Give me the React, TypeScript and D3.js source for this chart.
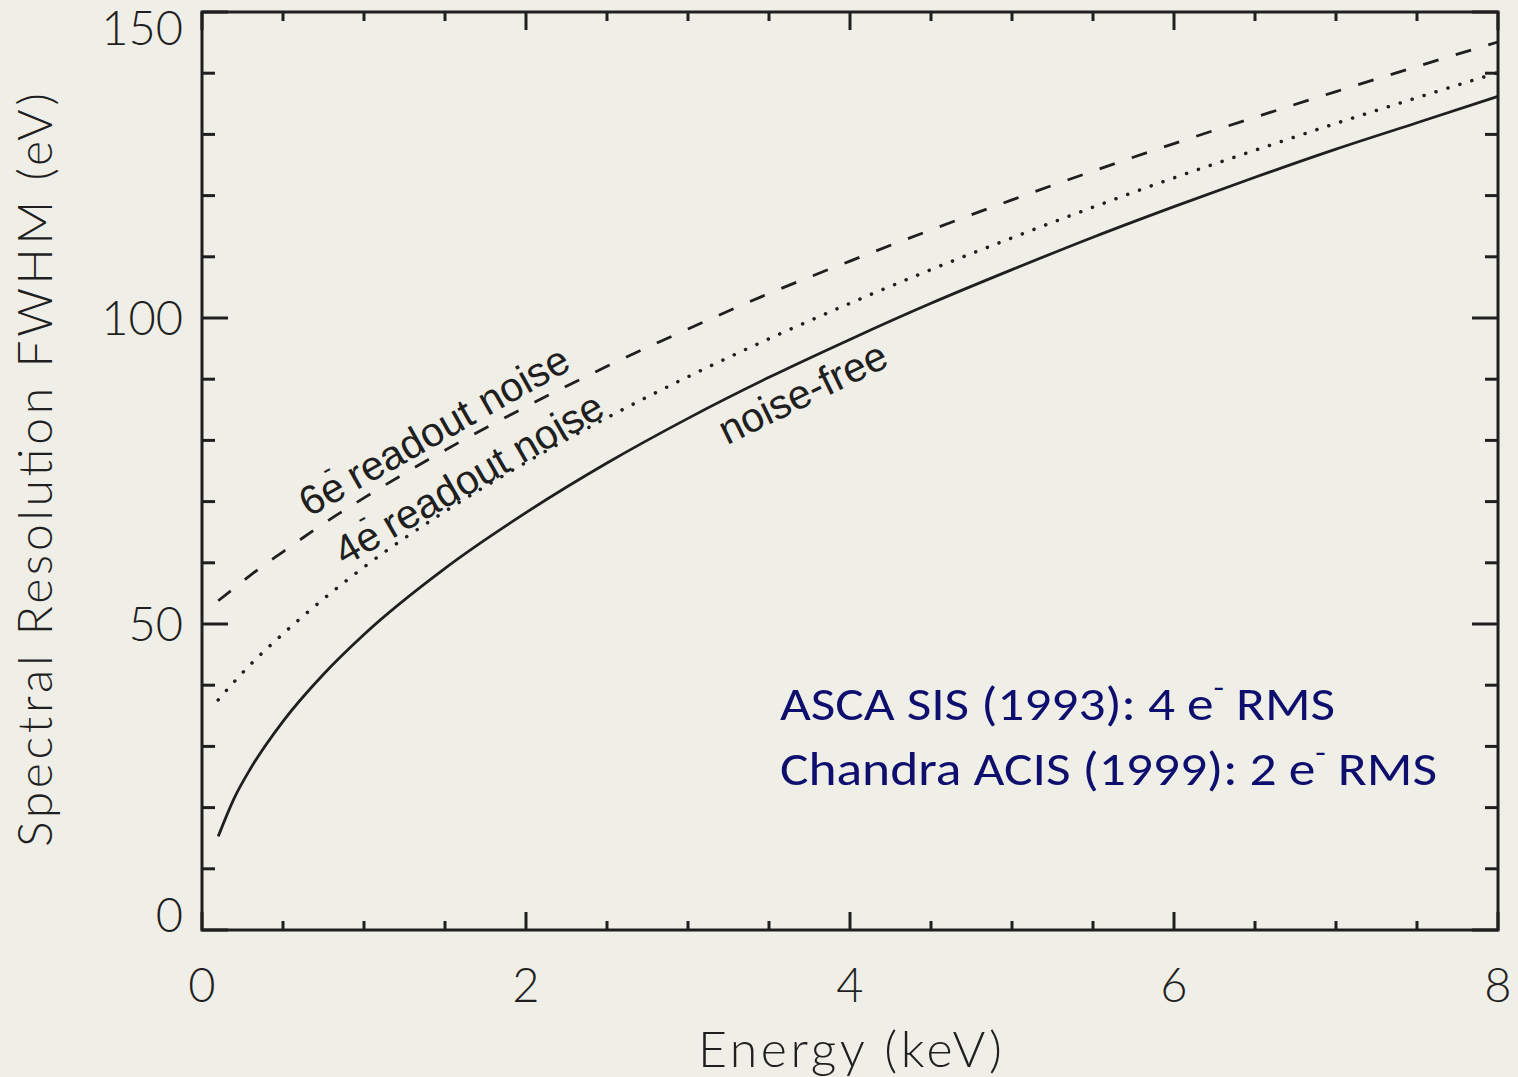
import React from "react";
import * as d3 from "d3";

const energies = [0.1, 0.2, 0.3, 0.5, 0.75, 1, 1.5, 2, 2.5, 3, 3.5, 4, 4.5, 5, 5.5, 6, 6.5, 7, 7.5, 8];
const noiseFree = [15.3, 21.6, 26.4, 34.1, 41.8, 48.3, 59.1, 68.2, 76.3, 83.6, 90.3, 96.5, 102.4, 107.9, 113.2, 118.2, 123.0, 127.6, 131.9, 136.2];
const noise4e = [37.6, 40.6, 43.4, 48.4, 54.1, 59.3, 68.4, 76.4, 83.7, 90.4, 96.6, 102.4, 107.9, 113.1, 118.1, 122.9, 127.4, 131.8, 136.0, 140.1];
const noise6e = [53.8, 55.9, 58.0, 61.8, 66.4, 70.6, 78.4, 85.5, 92.1, 98.2, 104.0, 109.3, 114.4, 119.3, 124.0, 128.5, 132.8, 137.0, 141.1, 145.1];

const xMajorTicks = [0, 2, 4, 6, 8];
const xMinorTicks = [0.5, 1, 1.5, 2.5, 3, 3.5, 4.5, 5, 5.5, 6.5, 7, 7.5];
const yMajorTicks = [0, 50, 100, 150];
const yMinorTicks = [10, 20, 30, 40, 60, 70, 80, 90, 110, 120, 130, 140];

const xTitle = "Energy (keV)";
const yTitle = "Spectral Resolution FWHM (eV)";
const noteLines = [
  { pre: "ASCA SIS (1993): 4 e", post: " RMS" },
  { pre: "Chandra ACIS (1999): 2 e", post: " RMS" },
];

const W = 1518;
const H = 1077;
const BG = "#f0efe7";
const INK = "#1f1f1f";
const NAVY = "#0e0e6e";
const IDL_FONT = "Lato, 'DejaVu Sans', sans-serif";
const LABEL_FONT = "'Liberation Sans', Arial, sans-serif";

export default function App() {
  const x = d3.scaleLinear().domain([0, 8]).range([202, 1498]);
  const y = d3.scaleLinear().domain([0, 150]).range([930, 12]);

  const line = d3
    .line<number>()
    .x((_, i) => x(energies[i]))
    .y((d) => y(d))
    .curve(d3.curveMonotoneX);

  const [x0, x1] = x.range();
  const [y0, y1] = y.range();

  const yLabelBaseline = (v: number) => Math.max(45, Math.min(932, y(v) + 17));

  return (
    <svg
      width={W}
      height={H}
      style={{ position: "absolute", left: 0, top: 0, display: "block" }}
    >
      <rect x={0} y={0} width={W} height={H} fill={BG} />

      {/* curves */}
      <path d={line(noiseFree) || ""} fill="none" stroke={INK} strokeWidth={2.8} />
      <path
        d={line(noise4e) || ""}
        fill="none"
        stroke={INK}
        strokeWidth={3.5}
        strokeLinecap="round"
        strokeDasharray="0.1 12.4"
      />
      <path
        d={line(noise6e) || ""}
        fill="none"
        stroke={INK}
        strokeWidth={2.8}
        strokeDasharray="16 18"
      />

      {/* frame */}
      <rect x={x0} y={y1} width={x1 - x0} height={y0 - y1} fill="none" stroke={INK} strokeWidth={3} />

      {/* x ticks */}
      {xMajorTicks.map((t) => (
        <g key={"xM" + t}>
          <line x1={x(t)} x2={x(t)} y1={y0} y2={y0 - 18} stroke={INK} strokeWidth={3} />
          <line x1={x(t)} x2={x(t)} y1={y1} y2={y1 + 18} stroke={INK} strokeWidth={3} />
        </g>
      ))}
      {xMinorTicks.map((t) => (
        <g key={"xm" + t}>
          <line x1={x(t)} x2={x(t)} y1={y0} y2={y0 - 9} stroke={INK} strokeWidth={3} />
          <line x1={x(t)} x2={x(t)} y1={y1} y2={y1 + 9} stroke={INK} strokeWidth={3} />
        </g>
      ))}
      {/* y ticks */}
      {yMajorTicks.map((t) => (
        <g key={"yM" + t}>
          <line x1={x0} x2={x0 + 26} y1={y(t)} y2={y(t)} stroke={INK} strokeWidth={3} />
          <line x1={x1} x2={x1 - 26} y1={y(t)} y2={y(t)} stroke={INK} strokeWidth={3} />
        </g>
      ))}
      {yMinorTicks.map((t) => (
        <g key={"ym" + t}>
          <line x1={x0} x2={x0 + 13} y1={y(t)} y2={y(t)} stroke={INK} strokeWidth={3} />
          <line x1={x1} x2={x1 - 13} y1={y(t)} y2={y(t)} stroke={INK} strokeWidth={3} />
        </g>
      ))}

      {/* tick labels */}
      {xMajorTicks.map((t) => (
        <text
          key={"xl" + t}
          x={x(t)}
          y={1002}
          textAnchor="middle"
          fontFamily={IDL_FONT}
          fontWeight={300}
          fontSize={47}
          fill={INK}
        >
          {t}
        </text>
      ))}
      {yMajorTicks.map((t) => (
        <text
          key={"yl" + t}
          x={183}
          y={yLabelBaseline(t)}
          textAnchor="end"
          fontFamily={IDL_FONT}
          fontWeight={300}
          fontSize={47}
          fill={INK}
        >
          {t}
        </text>
      ))}

      {/* axis titles */}
      <text
        x={x(4)}
        y={1067}
        textAnchor="middle"
        fontFamily={IDL_FONT}
        fontWeight={300}
        fontSize={50}
        fill={INK}
        textLength={304}
        lengthAdjust="spacing"
      >
        {xTitle}
      </text>
      <text
        transform={`translate(52,470) rotate(-90)`}
        textAnchor="middle"
        fontFamily={IDL_FONT}
        fontWeight={300}
        fontSize={48}
        fill={INK}
        textLength={754}
        lengthAdjust="spacing"
      >
        {yTitle}
      </text>

      {/* curve labels */}
      <text
        transform={`translate(${x(0.66)},${y(67.4)}) rotate(-29.5)`}
        fontFamily={LABEL_FONT}
        fontSize={41}
        fill={INK}
      >
        6e
        <tspan dx={-11} dy={-25} fontSize={26}>-</tspan>
        <tspan dy={25} fontSize={41}> readout noise</tspan>
      </text>
      <text
        transform={`translate(${x(0.88)},${y(59.4)}) rotate(-30)`}
        fontFamily={LABEL_FONT}
        fontSize={41}
        fill={INK}
      >
        4e
        <tspan dx={-11} dy={-25} fontSize={26}>-</tspan>
        <tspan dy={25} fontSize={41}> readout noise</tspan>
      </text>
      <text
        transform={`translate(${x(3.24)},${y(79.2)}) rotate(-26)`}
        fontFamily={LABEL_FONT}
        fontSize={41}
        fill={INK}
      >
        noise-free
      </text>

      {/* annotation */}
      {noteLines.map((l, i) => (
        <text
          key={"n" + i}
          x={780}
          y={720 + i * 65}
          fontFamily="Calibri, Carlito, 'Open Sans', sans-serif"
          fontSize={47}
          fill={NAVY}
          textLength={i === 0 ? 555 : 657}
          lengthAdjust="spacingAndGlyphs"
        >
          {l.pre}
          <tspan dy={-22} fontSize={30}>-</tspan>
          <tspan dy={22} fontSize={47}>{l.post}</tspan>
        </text>
      ))}
    </svg>
  );
}
